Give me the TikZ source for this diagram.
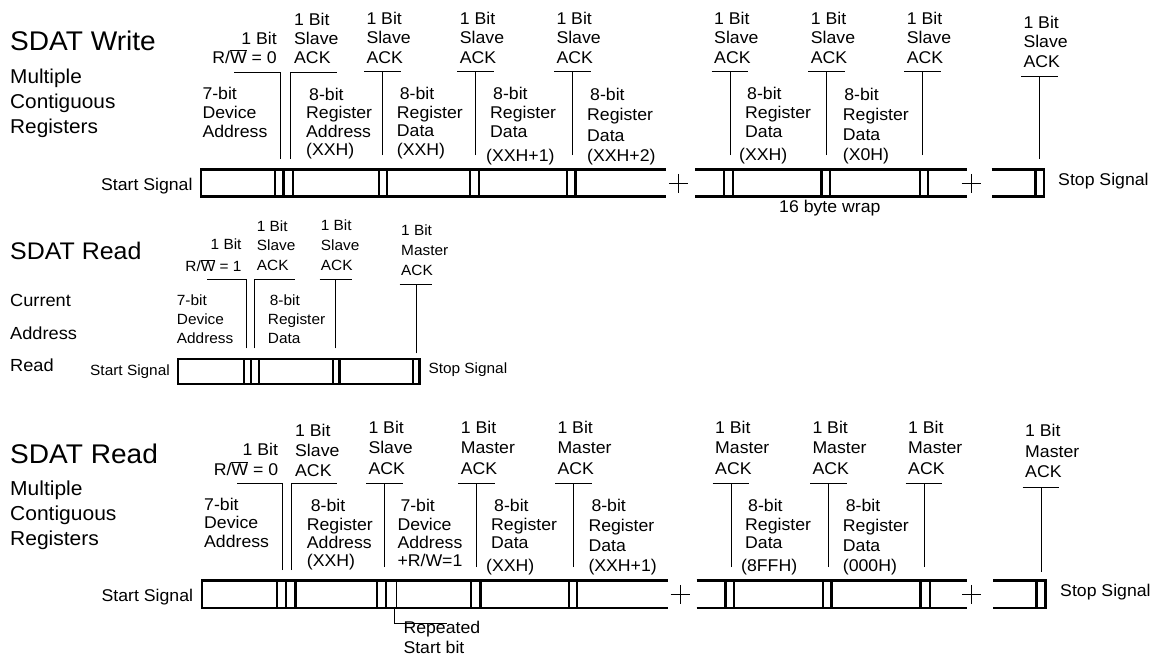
\documentclass[tikz,border=0pt]{standalone}
\usepackage{fontspec}
\setmainfont{Liberation Sans}[FakeStretch=1.04]
\begin{document}
\begin{tikzpicture}[x=1pt,y=-1pt,
  busline/.style={line width=2.4pt},
  ptr/.style={line width=0.9pt},
  lbl/.style={font=\fontsize{17}{19}\selectfont, align=left, inner sep=0pt, anchor=base west},
  lblr/.style={lbl, align=right, anchor=base east},
  rowtwo/.style={font=\fontsize{14.8}{19.8}\selectfont},
  ttl/.style={inner sep=0pt, anchor=base west},
  subttl/.style={inner sep=0pt, anchor=base west, align=left}]
\useasboundingbox (0,0) rectangle (1156,656);

%%% SDAT Write
\node[ttl, font=\fontsize{27}{30}\selectfont] (wtitle) at (10,50) {SDAT Write};
\node[subttl, font=\fontsize{20}{25}\selectfont] (wsub) at (10,133.3) {Multiple\\Contiguous\\Registers};
% bus
\draw[busline] (665.7,169.5) -- (201,169.5) -- (201,196.5) -- (665.7,196.5);
\draw[busline] (695,169.5) -- (966.7,169.5) (695,196.5) -- (966.7,196.5);
\draw[busline] (991.7,169.5) -- (1044,169.5) -- (1044,196.5) -- (991.7,196.5);
\foreach \x in {275.2,283.5,292.8,378.7,387,469.7,478.8,567,575.5,724,733,821.3,829.7,919.7,928,1035.3}
  \draw[busline] (\x,169.5) -- (\x,196.5);
\foreach \x in {678.3,971}
  \draw[ptr] (\x-9.5,183.3) -- (\x+9.5,183.3) (\x,173.8) -- (\x,192.8); % wrap
\node[lbl, anchor=base east] (wstart) at (192.7,190.7) {Start Signal};
\node[lbl] (wstop) at (1058,185) {Stop Signal};
\node[lbl] (wwrap) at (779,212) {16 byte wrap};
% bit labels
\node[lblr] (wrw) at (277,63.3) {1 Bit\\R/$\overline{\mbox{W}}$ = 0};
\coordinate (wrwtip) at (280.3,159);
\draw[ptr] (wrwtip) -- (280.3,72) -- (234,72);
\node[lbl] (wack0) at (294,63.3) {1 Bit\\Slave\\ACK};
\coordinate (wacktip0) at (290.7,159);
\draw[ptr] (wacktip0) -- (290.7,72) -- (336.7,72);
\foreach \x [count=\i] in {382.3,475.7,572.3,730,826.7,922.7}{
  \node[lbl, font=\fontsize{17}{19.5}\selectfont] (wack\i) at (\x-16,63) {1 Bit\\Slave\\ACK};
  \coordinate (wacktip\i) at (\x,155);
  \draw[ptr] (wacktip\i) -- (\x,71.7) +(-18.3,0) -- +(18.3,0);
}
\node[lbl, font=\fontsize{17}{19.5}\selectfont] (wackend) at (1023.3,67) {1 Bit\\Slave\\ACK};
\coordinate (wacktipend) at (1039.3,159);
\draw[ptr] (wacktipend) -- (1039.3,76) +(-18.3,0) -- +(18.3,0);
% field labels
\node[lbl] (wdev) at (202.3,137.3) {7-bit\\Device\\Address};
\node[lbl, font=\fontsize{17}{18.5}\selectfont] (wreg) at (306,155.5) {\kern3pt 8-bit\\Register\\Address\\(XXH)};
\node[lbl, font=\fontsize{17}{18.5}\selectfont] (wdata0) at (396.7,155) {\kern3pt 8-bit\\Register\\Data\\(XXH)};
\node[lbl] (wdata1) at (490,161.7) {\kern3pt 8-bit\\Register\\Data\\[5pt]\kern-4pt(XXH+1)};
\node[lbl, font=\fontsize{17}{20.5}\selectfont] (wdata2) at (587,161.7) {\kern3pt 8-bit\\Register\\Data\\(XXH+2)};
\node[lbl] (wdata3) at (745,160) {\kern2pt 8-bit\\Register\\Data\\[4pt]\kern-6pt(XXH)};
\node[lbl, font=\fontsize{17}{19.7}\selectfont] (wdata4) at (842.7,160) {\kern1.5pt 8-bit\\Register\\Data\\(X0H)};

%%% SDAT Read, current address
\node[ttl, font=\fontsize{24}{30}\selectfont] (rtitle) at (10,259.3) {SDAT Read};
\node[subttl, font=\fontsize{17.5}{32.5}\selectfont] (rsub) at (10,371.7) {Current\\Address\\Read};
\draw[busline, line width=2.2pt] (178,358.7) rectangle (419.5,384);
\foreach \x in {243.7,251.2,258.7,333,339.5,412.8}
  \draw[busline, line width=2.2pt] (\x,358.7) -- (\x,384);
\node[lbl, rowtwo, anchor=base east] (rstart) at (170,375) {Start Signal};
\node[lbl, rowtwo] (rstop) at (428.3,373.3) {Stop Signal};
\node[lblr, rowtwo] (rrw) at (241.7,271.7) {1 Bit\\[2pt]R/$\overline{\mbox{W}}$ = 1};
\coordinate (rrwtip) at (246.7,348.3);
\draw[ptr] (rrwtip) -- (246.7,279.3) -- (206.7,279.3);
\node[lbl, rowtwo] (rack0) at (256.7,270.7) {1 Bit\\Slave\\ACK};
\coordinate (racktip0) at (254.3,348.3);
\draw[ptr] (racktip0) -- (254.3,279.3) -- (295,279.3);
\node[lbl, rowtwo] (rack1) at (320.7,270) {1 Bit\\Slave\\ACK};
\coordinate (racktip1) at (335.7,348.3);
\draw[ptr] (racktip1) -- (335.7,279.3) +(-16.2,0) -- +(16.2,0);
\node[lbl, rowtwo] (rmack) at (401,275) {1 Bit\\Master\\ACK};
\coordinate (rmacktip) at (416,353.3);
\draw[ptr] (rmacktip) -- (416,284.3) +(-16.3,0) -- +(16.3,0);
\node[lbl, font=\fontsize{14.8}{18.7}\selectfont] (rdev) at (176.7,343.3) {7-bit\\Device\\Address};
\node[lbl, font=\fontsize{14.8}{18.7}\selectfont] (rdata) at (267.7,343.3) {\kern2pt 8-bit\\Register\\Data};

%%% SDAT Read, multiple
\node[ttl, font=\fontsize{27}{30}\selectfont] (mtitle) at (10,463.3) {SDAT Read};
\node[subttl, font=\fontsize{20.2}{25}\selectfont] (msub) at (10,545) {Multiple\\Contiguous\\Registers};
% bus
\draw[busline] (667.7,580.5) -- (201.7,580.5) -- (201.7,608) -- (667.7,608);
\draw[busline] (696.7,580.5) -- (967.3,580.5) (696.7,608) -- (967.3,608);
\draw[busline] (993.3,580.5) -- (1045.3,580.5) -- (1045.3,608) -- (993.3,608);
\foreach \x in {277.2,286.2,295.3,377.2,386.2,471.2,480.3,568.7,577,725.3,733.7,823,831.3,920.5,929.7,1036.3}
  \draw[busline] (\x,580.5) -- (\x,608);
\draw[ptr] (396.7,580.5) -- (396.7,608); % repeated start
\foreach \x in {680,971.7}
  \draw[ptr] (\x-9.5,594.3) -- (\x+9.5,594.3) (\x,584.8) -- (\x,603.8); % wrap
\node[lbl, anchor=base east] (mstart) at (193.3,601.7) {Start Signal};
\node[lbl] (mstop) at (1060,596.7) {Stop Signal};
\coordinate (mreptip) at (394.3,609);
\node[lbl, font=\fontsize{17}{20}\selectfont] (mrep) at (403.3,653.3) {Repeated\\Start bit};
\draw[ptr] (mreptip) |- (446.7,623.3);
% bit labels
\node[lblr] (mrw) at (278.3,475) {1 Bit\\[1pt]R/$\overline{\mbox{W}}$ = 0};
\coordinate (mrwtip) at (282.7,570);
\draw[ptr] (mrwtip) -- (282.7,483.3) -- (236.7,483.3);
\node[lbl, font=\fontsize{17}{19.7}\selectfont] (mack0) at (295,476) {1 Bit\\Slave\\ACK};
\coordinate (macktip0) at (291.7,570);
\draw[ptr] (macktip0) -- (291.7,483.3) -- (337.3,483.3);
\foreach \x/\who [count=\i] in {384.3/Slave,476.7/Master,573.3/Master,731/Master,828.3/Master,924/Master}{
  \node[lbl, font=\fontsize{17}{20.3}\selectfont] (mack\i) at (\x-16,474) {1 Bit\\\who\\ACK};
  \coordinate (macktip\i) at (\x,567);
  \draw[ptr] (macktip\i) -- (\x,483.3) +(-18.3,0) -- +(18.3,0);
}
\node[lbl, font=\fontsize{17}{20.3}\selectfont] (mackend) at (1025,477.3) {1 Bit\\Master\\ACK};
\coordinate (macktipend) at (1041,571.7);
\draw[ptr] (macktipend) -- (1041,487.3) +(-18.3,0) -- +(18.3,0);
% field labels
\node[lbl, font=\fontsize{17}{18.8}\selectfont] (mdev) at (204,547.7) {7-bit\\Device\\Address};
\node[lbl, font=\fontsize{17}{18.3}\selectfont] (mreg) at (306.7,566.7) {\kern4pt 8-bit\\Register\\Address\\(XXH)};
\node[lbl, font=\fontsize{17}{18.3}\selectfont] (mdev2) at (397.3,566.7) {\kern3pt 7-bit\\Device\\Address\\+R/W=1};
\node[lbl, font=\fontsize{17}{18.3}\selectfont] (mdata0) at (491,571.7) {\kern3pt 8-bit\\Register\\Data\\[5pt]\kern-5pt(XXH)};
\node[lbl, font=\fontsize{17}{20}\selectfont] (mdata1) at (588.3,571.7) {\kern3pt 8-bit\\Register\\Data\\(XXH+1)};
\node[lbl, font=\fontsize{17}{18.3}\selectfont] (mdata2) at (745,571.7) {\kern3pt 8-bit\\Register\\Data\\[5pt]\kern-4pt(8FFH)};
\node[lbl, font=\fontsize{17}{20}\selectfont] (mdata3) at (842.7,571.7) {\kern3pt 8-bit\\Register\\Data\\(000H)};
\end{tikzpicture}
\end{document}
